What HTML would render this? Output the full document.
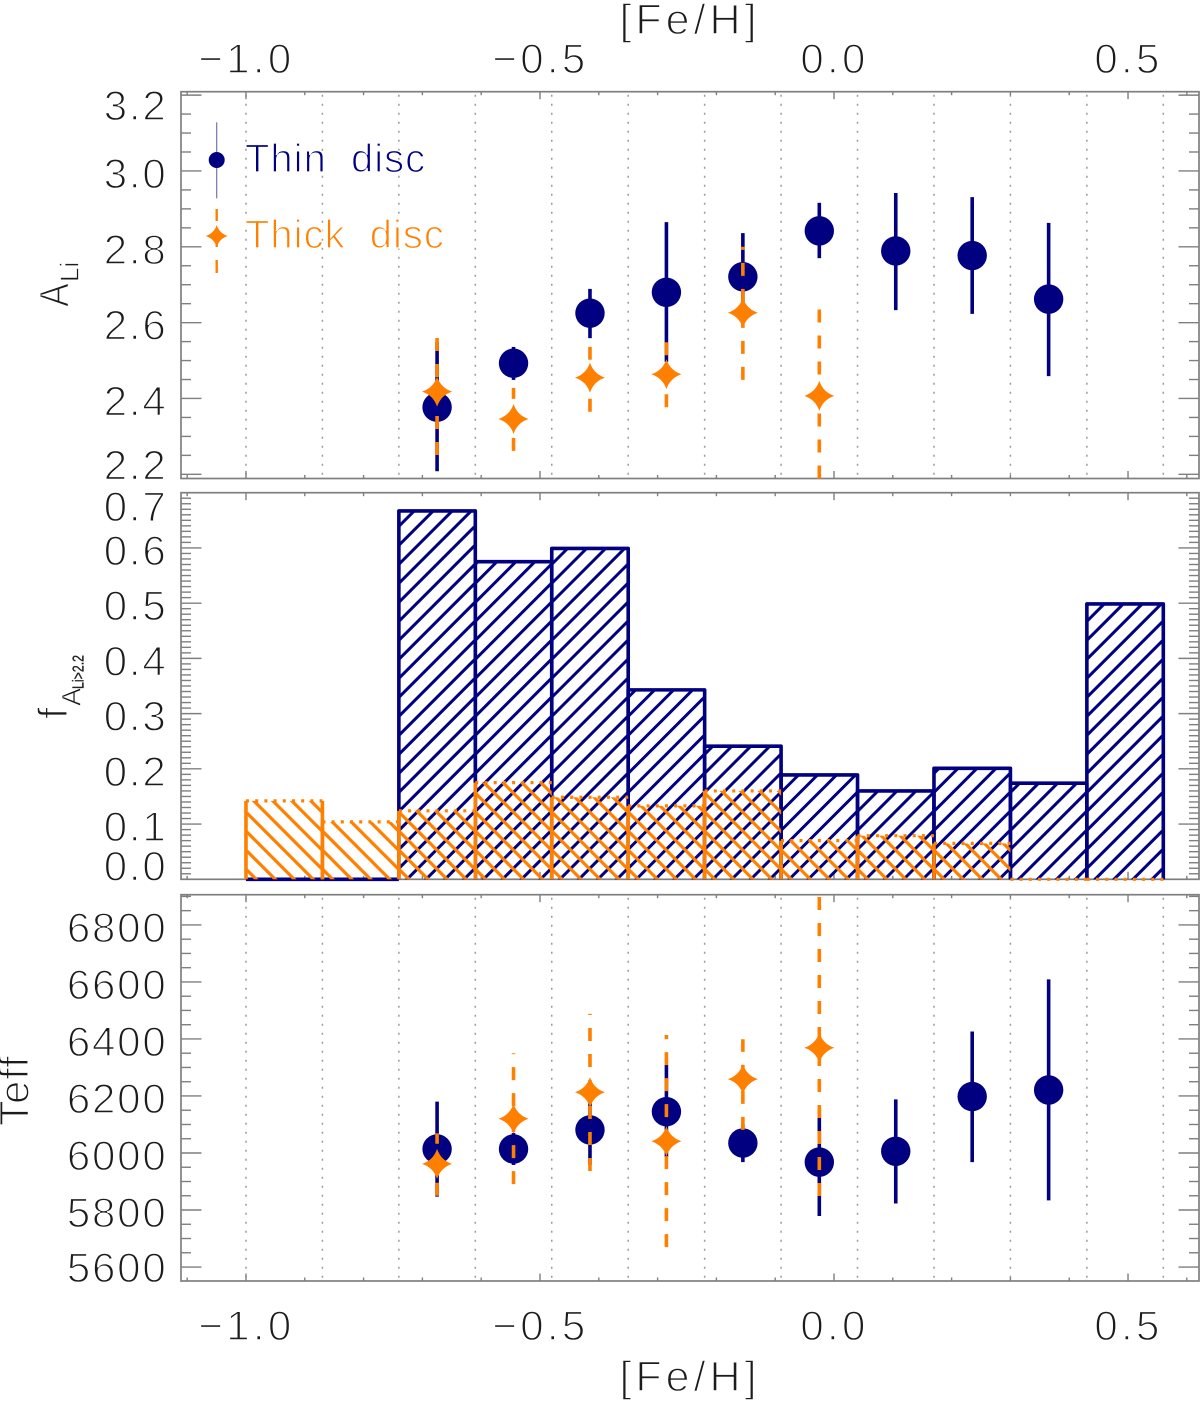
<!DOCTYPE html>
<html lang="en">
<head>
<meta charset="utf-8">
<title>Lithium abundance, fraction and Teff versus metallicity</title>
<style>
  html, body { margin: 0; padding: 0; background: #fff; }
  svg { display: block; }
  text { font-family: "Liberation Sans", sans-serif; }
  .thin-text { fill: #1c1c1c; stroke: #fff; stroke-width: 1.4px; font-size: 42px; }
  .tick-text { letter-spacing: 1.8px; }
  .x-tick-text { letter-spacing: 3.3px; }
  .x-title { letter-spacing: 4px; font-size: 43px; }
  .legend-text { font-size: 40px; letter-spacing: 1px; white-space: pre; stroke: #fff; stroke-width: 1.3px; }
</style>
</head>
<body>
<svg id="chart" xmlns="http://www.w3.org/2000/svg" width="1200" height="1402" viewBox="0 0 1200 1402">
  <defs>
    <pattern id="hatch-thin" width="13.44" height="13.44" patternUnits="userSpaceOnUse" patternTransform="translate(6,0) rotate(45)">
      <rect x="0" y="0" width="3" height="13.44" fill="#000080"></rect>
    </pattern>
    <pattern id="hatch-thick" width="13.44" height="13.44" patternUnits="userSpaceOnUse" patternTransform="translate(8,0) rotate(-45)">
      <rect x="0" y="0" width="3.2" height="13.44" fill="#ff8000"></rect>
    </pattern>
  </defs>

  <text class="thin-text x-title" x="690" y="34" text-anchor="middle">[Fe/H]</text>
  <text class="thin-text x-title" x="690" y="1391" text-anchor="middle">[Fe/H]</text>

  <g>
    <text class="thin-text" transform="translate(68.5,307) rotate(-90) scale(0.85,1)">A</text>
    <text class="thin-text" style="font-size:26px;stroke-width:.7px" transform="translate(78.5,282) rotate(-90)">Li</text>
  </g>
  <g>
    <text class="thin-text" transform="translate(67.5,719) rotate(-90)">f</text>
    <text class="thin-text" style="font-size:27px;stroke-width:.7px" transform="translate(80.5,706) rotate(-90)">A</text>
    <text fill="#222" stroke="#222" stroke-width="0.35" font-size="16" textLength="34" lengthAdjust="spacingAndGlyphs" transform="translate(83.5,689) rotate(-90)">Li&gt;2.2</text>
  </g>
  <text class="thin-text" style="letter-spacing:1px" transform="translate(28.5,1126) rotate(-90)">Teff</text>

  <g id="panels"></g>

  <g>
    <g>
      <line x1="216.7" x2="216.7" y1="122.3" y2="198.3" stroke="#000080" stroke-opacity="0.55" stroke-width="1.2"></line>
      <circle cx="216.7" cy="160" r="8" fill="#000080"></circle>
      <text class="legend-text" x="245" y="172" fill="#000080">Thin  disc</text>
    </g>
    <g>
      <line x1="216.7" x2="216.7" y1="273" y2="209" stroke="#ff8000" stroke-width="2.4" stroke-dasharray="13 13"></line>
      <path d="M216.7,225 Q219.4,233.3 227.7,236 Q219.4,238.7 216.7,247 Q214,238.7 205.7,236 Q214,233.3 216.7,225 Z" fill="#ff8000"></path>
      <text class="legend-text" x="245" y="248" fill="#ff8000">Thick  disc</text>
    </g>
  </g>
</svg>
<script>
// ---- Shared x data ----
const binEdges = [-1.0, -0.87, -0.74, -0.61, -0.48, -0.35, -0.22, -0.09, 0.04, 0.17, 0.30, 0.43, 0.56];
const binCenters = [-0.675, -0.545, -0.415, -0.285, -0.155, -0.025, 0.105, 0.235, 0.365];
const xTickValues = [-1.0, -0.5, 0.0, 0.5];
const xTickLabels = ['\u22121.0', '\u22120.5', '0.0', '0.5'];

// ---- Lithium abundance panel ----
const aliTicks = [2.2, 2.4, 2.6, 2.8, 3.0, 3.2];
const aliTickLabels = ['2.2', '2.4', '2.6', '2.8', '3.0', '3.2'];
const aliThin = [2.377, 2.493, 2.625, 2.680, 2.721, 2.842, 2.789, 2.777, 2.662];
const aliThinHigh = [2.549, 2.536, 2.689, 2.865, 2.836, 2.916, 2.942, 2.931, 2.863];
const aliThinLow = [2.208, 2.449, 2.559, 2.497, 2.607, 2.770, 2.633, 2.623, 2.459];
const aliThick = [2.418, 2.346, 2.455, 2.464, 2.626, 2.407];
const aliThickHigh = [2.560, 2.428, 2.536, 2.550, 2.800, 2.635];
const aliThickLow = [2.251, 2.262, 2.365, 2.377, 2.449, 2.189];

// ---- Lithium fraction panel ----
const fracTicks = [0.0, 0.1, 0.2, 0.3, 0.4, 0.5, 0.6, 0.7];
const fracTickLabels = ['0.0', '0.1', '0.2', '0.3', '0.4', '0.5', '0.6', '0.7'];
const fracThin = [0, 0, 0.667, 0.575, 0.599, 0.343, 0.241, 0.189, 0.160, 0.201, 0.174, 0.4985];
const fracThick = [0.142, 0.104, 0.124, 0.175, 0.1485, 0.133, 0.160, 0.070, 0.079, 0.065, 0, 0];

// ---- Teff panel ----
const teffTicks = [5600, 5800, 6000, 6200, 6400, 6600, 6800];
const teffTickLabels = ['5600', '5800', '6000', '6200', '6400', '6600', '6800'];
const teffThin = [6014, 6014, 6081, 6145, 6035, 5968, 6006, 6198, 6221];
const teffThinHigh = [6180, 6070, 6175, 6309, 6102, 6158, 6188, 6426, 6609];
const teffThinLow = [5847, 5958, 5958, 5986, 5968, 5779, 5823, 5968, 5834];
const teffThick = [5962, 6120, 6213, 6041, 6259, 6369];
const teffThickHigh = [6069, 6350, 6488, 6414, 6399, 6898];
const teffThickLow = [5850, 5891, 5937, 5670, 6081, 5849];

const NAVY = '#000080';
const ORANGE = '#ff8000';
const AXIS = '#7f7f7f';
const NS = 'http://www.w3.org/2000/svg';
const LEFT = 181, RIGHT = 1199;

function make(tag, attrs, parent, text) {
  const node = document.createElementNS(NS, tag);
  for (const key in attrs) node.setAttribute(key, attrs[key]);
  if (text !== undefined) node.textContent = text;
  parent.appendChild(node);
  return node;
}
function linear(d0, d1, r0, r1) {
  return v => r0 + (v - d0) * (r1 - r0) / (d1 - d0);
}
const x = linear(-1.1105, 0.6207, LEFT, RIGHT);
const root = document.getElementById('panels');

function drawFrame(name, top, bottom, y, yDomain, majorTicks, tickLabels, minorStep, showGrid) {
  const g = make('g', {}, root);
  
  
  const clip = make('clipPath', { id: name + '-clip' }, g);
  make('rect', { x: LEFT, y: top, width: RIGHT - LEFT, height: bottom - top }, clip);

  if (showGrid) {
    binEdges.forEach(edge => {
      const grid = make('line', { x1: x(edge), x2: x(edge), y1: top + 3, y2: bottom,
        stroke: '#9a9a9a', 'stroke-width': 1.5, 'stroke-dasharray': '2 7' }, g);
      
      
    });
  }

  const frame = make('rect', { x: LEFT, y: top, width: RIGHT - LEFT, height: bottom - top,
    fill: 'none', stroke: AXIS, 'stroke-width': 1.7 }, g);
  
  

  // x ticks, every 0.1 dex on top and bottom edges
  for (let k = -11; k <= 6; k++) {
    const value = k / 10;
    const isMajor = k % 5 === 0;
    const len = isMajor ? 7.5 : 3.5;
    const px = x(value);
    const t1 = make('line', { x1: px, x2: px, y1: bottom, y2: bottom - len, stroke: AXIS, 'stroke-width': 1.4 }, g);
    
    
    const t2 = make('line', { x1: px, x2: px, y1: top, y2: top + len, stroke: AXIS, 'stroke-width': 1.4 }, g);
    
    
  }

  // y ticks
  const nSteps = Math.round((yDomain[1] - yDomain[0]) / minorStep);
  const start = Math.ceil(yDomain[0] / minorStep - 1e-6);
  for (let k = start; k <= start + nSteps; k++) {
    const value = k * minorStep;
    if (value > yDomain[1]) break;
    const isMajor = majorTicks.some(t => Math.abs(t - value) < minorStep / 10);
    const len = isMajor ? 20.5 : 10;
    const py = y(value);
    const t1 = make('line', { x1: LEFT, x2: LEFT + len, y1: py, y2: py, stroke: AXIS, 'stroke-width': 1.4 }, g);
    
    
    const t2 = make('line', { x1: RIGHT, x2: RIGHT - len, y1: py, y2: py, stroke: AXIS, 'stroke-width': 1.4 }, g);
    
    
  }

  // y tick labels, nudged inside the frame the way the original does
  majorTicks.forEach((value, i) => {
    const base = Math.min(bottom + 1, Math.max(top + 28.5, y(value) + 17));
    const label = make('text', { x: 167.5, y: base, 'text-anchor': 'end', class: 'thin-text tick-text' }, g, tickLabels[i]);
    
    
  });
}

function star(cx, cy, s) {
  const c = 0.25 * s;
  return 'M' + cx + ',' + (cy - s) +
    ' Q' + (cx + c) + ',' + (cy - c) + ' ' + (cx + s) + ',' + cy +
    ' Q' + (cx + c) + ',' + (cy + c) + ' ' + cx + ',' + (cy + s) +
    ' Q' + (cx - c) + ',' + (cy + c) + ' ' + (cx - s) + ',' + cy +
    ' Q' + (cx - c) + ',' + (cy - c) + ' ' + cx + ',' + (cy - s) + ' Z';
}

function drawPoints(name, y, thin, thinHigh, thinLow, thick, thickHigh, thickLow) {
  const g = make('g', { 'clip-path': 'url(#' + name + '-clip)' }, root);
  
  
  thin.forEach((value, i) => {
    const px = x(binCenters[i]);
    const bar = make('line', { x1: px, x2: px, y1: y(thinLow[i]), y2: y(thinHigh[i]), stroke: NAVY, 'stroke-width': 3.6 }, g);
    
    
    const dot = make('circle', { cx: px, cy: y(value), r: 14.7, fill: NAVY }, g);
    
    
  });
  thick.forEach((value, i) => {
    const px = x(binCenters[i]);
    const bar = make('line', { x1: px, x2: px, y1: y(thickLow[i]), y2: y(thickHigh[i]), stroke: ORANGE,
      'stroke-width': 3.6, 'stroke-dasharray': '13 13' }, g);
    
    
    const mark = make('path', { d: star(px, y(value), 15), fill: ORANGE }, g);
    
    
  });
}

function drawBars(name, y) {
  const base = y(0);
  const g = make('g', {}, root);
  
  
  fracThin.forEach((value, i) => {
    const x0 = x(binEdges[i]), x1 = x(binEdges[i + 1]), top = y(value);
    const hatch = make('rect', { x: 0, y: top - base, width: x1 - x0, height: base - top,
      fill: 'url(#hatch-thin)', transform: 'translate(' + x0 + ',' + base + ')' }, g);
    
    
    const outline = make('path', { d: 'M' + x0 + ',' + base + ' V' + top + ' H' + x1 + ' V' + base,
      fill: 'none', stroke: NAVY, 'stroke-width': 3.6, 'stroke-linejoin': 'round' }, g);
    
    
  });
  fracThick.forEach((value, i) => {
    const x0 = x(binEdges[i]), x1 = x(binEdges[i + 1]), top = y(value);
    const hatch = make('rect', { x: 0, y: top - base, width: x1 - x0, height: base - top,
      fill: 'url(#hatch-thick)', transform: 'translate(' + x0 + ',' + base + ')' }, g);
    
    
    const cap = make('line', { x1: x0, x2: x1, y1: top, y2: top, stroke: ORANGE, 'stroke-width': 3.2, 'stroke-dasharray': '3 6.2' }, g);
    
    
    if (value > 0) {
      const edge = make('line', { x1: x0, x2: x0, y1: base, y2: top, stroke: ORANGE, 'stroke-width': 3.6 }, g);
      
      
    }
    if (i === 0) {
      const edgeRight = make('line', { x1: x1, x2: x1, y1: base, y2: top, stroke: ORANGE, 'stroke-width': 3.6 }, g);
      
      
    }
  });
}

function drawXLabels(group, baseline) {
  xTickValues.forEach((value, i) => {
    const label = make('text', { x: x(value) + 0.5, y: baseline, 'text-anchor': 'middle', class: 'thin-text x-tick-text' }, root, xTickLabels[i]);
    
    
  });
}

// Panel 1: A(Li)
const yAli = linear(2.189, 3.209, 478.5, 91.7);
drawFrame('abundance-panel', 91.7, 478.5, yAli, [2.189, 3.209], aliTicks, aliTickLabels, 0.05, true);
drawPoints('abundance-panel', yAli, aliThin, aliThinHigh, aliThinLow, aliThick, aliThickHigh, aliThickLow);

// Panel 2: fraction histogram
const yFrac = linear(0, 0.7, 879.3, 492.7);
drawFrame('fraction-panel', 492.7, 879.3, yFrac, [0, 0.7], fracTicks, fracTickLabels, 0.01, false);
drawBars('fraction-panel', yFrac);

// Panel 3: Teff
const yTeff = linear(5551, 6906, 1281, 894.7);
drawFrame('teff-panel', 894.7, 1281, yTeff, [5551, 6906], teffTicks, teffTickLabels, 50, true);
drawPoints('teff-panel', yTeff, teffThin, teffThinHigh, teffThinLow, teffThick, teffThickHigh, teffThickLow);

drawXLabels('top', 73);
drawXLabels('bottom', 1340);
</script>
</body>
</html>
